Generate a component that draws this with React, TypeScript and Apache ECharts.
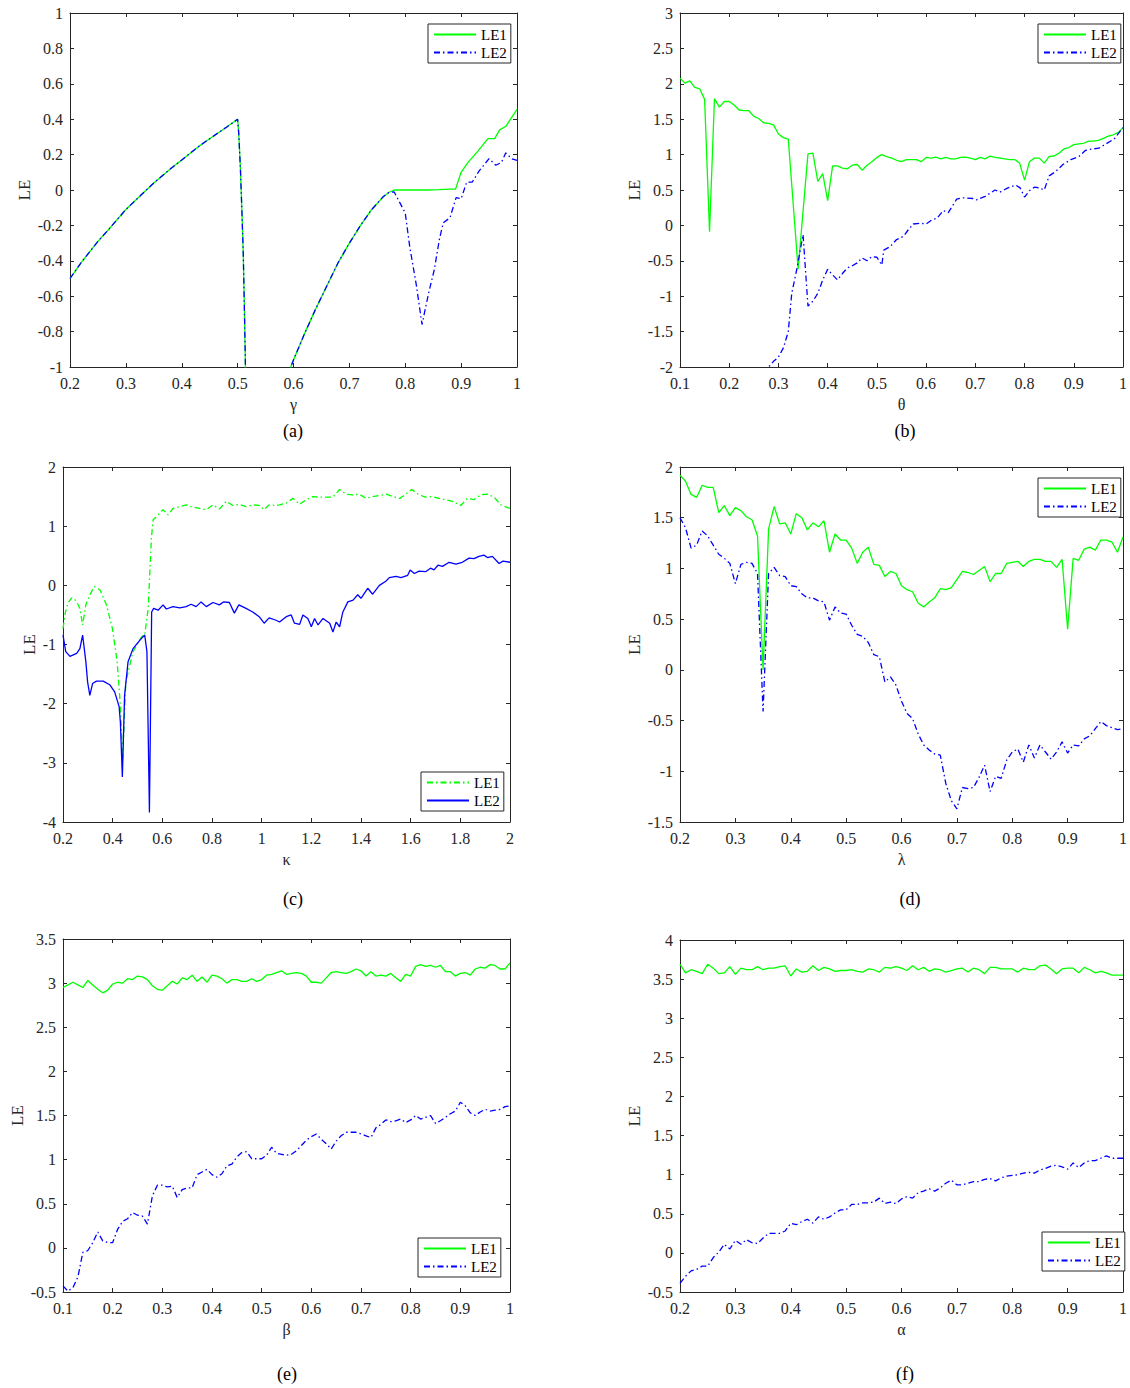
import React, { useEffect, useRef } from "react";
import * as echarts from "echarts";

type Pt = [number, number];

// ---------- (a) LE vs gamma ----------
const aLE1: Pt[] = [
  [0.2, -0.5], [0.22, -0.41], [0.25, -0.29], [0.27, -0.22], [0.3, -0.11], [0.33, -0.02], [0.35, 0.04],
  [0.38, 0.12], [0.4, 0.17], [0.43, 0.245], [0.45, 0.29], [0.48, 0.355], [0.5, 0.4], [0.502, 0.32],
  [0.505, 0.12], [0.508, -0.15], [0.51, -0.35], [0.512, -0.65], [0.514, -1.0], [0.516, -1.3],
  [0.55, -1.35], [0.59, -1.3], [0.595, -1.0], [0.6, -0.96], [0.62, -0.81], [0.64, -0.67], [0.66, -0.54],
  [0.68, -0.41], [0.7, -0.3], [0.72, -0.2], [0.74, -0.11], [0.76, -0.04], [0.77, -0.015], [0.78, 0.0],
  [0.8, 0.0], [0.82, 0.0], [0.84, 0.0], [0.86, 0.002], [0.88, 0.005], [0.89, 0.005], [0.9, 0.1],
  [0.912, 0.155], [0.93, 0.22], [0.948, 0.29], [0.96, 0.29], [0.969, 0.34], [0.98, 0.36], [1.0, 0.455],
];
const aLE2: Pt[] = [
  [0.2, -0.5], [0.22, -0.41], [0.25, -0.29], [0.27, -0.22], [0.3, -0.11], [0.33, -0.02], [0.35, 0.04],
  [0.38, 0.12], [0.4, 0.17], [0.43, 0.245], [0.45, 0.29], [0.48, 0.355], [0.5, 0.4], [0.502, 0.32],
  [0.505, 0.12], [0.508, -0.15], [0.51, -0.35], [0.512, -0.65], [0.514, -1.0], [0.516, -1.3],
  [0.55, -1.35], [0.59, -1.3], [0.595, -1.0], [0.6, -0.96], [0.62, -0.81], [0.64, -0.67], [0.66, -0.54],
  [0.68, -0.41], [0.7, -0.3], [0.72, -0.2], [0.74, -0.11], [0.76, -0.04], [0.77, -0.015], [0.78, -0.01],
  [0.8, -0.13], [0.808, -0.32], [0.82, -0.54], [0.83, -0.76], [0.842, -0.58], [0.852, -0.45], [0.861, -0.28],
  [0.868, -0.185], [0.88, -0.157], [0.891, -0.043], [0.9, -0.05], [0.91, 0.045], [0.92, 0.045],
  [0.932, 0.107], [0.95, 0.177], [0.962, 0.14], [0.972, 0.155], [0.98, 0.21], [0.99, 0.177], [1.0, 0.168],
];

// ---------- (b) LE vs theta ----------
const bLE1: Pt[] = [
  [0.1, 2.08], [0.11, 2.01], [0.12, 2.04], [0.13, 1.95], [0.14, 1.93], [0.15, 1.78], [0.16, -0.09], [0.17, 1.79],
  [0.18, 1.67], [0.19, 1.75], [0.2, 1.75], [0.21, 1.7], [0.22, 1.63], [0.23, 1.62], [0.24, 1.62], [0.25, 1.54],
  [0.26, 1.51], [0.27, 1.45], [0.28, 1.44], [0.29, 1.42], [0.3, 1.29], [0.31, 1.24], [0.32, 1.22], [0.34, -0.62],
  [0.35, 0.2], [0.36, 1.01], [0.37, 1.02], [0.38, 0.62], [0.39, 0.73], [0.4, 0.35], [0.41, 0.84], [0.42, 0.84],
  [0.43, 0.81], [0.44, 0.8], [0.45, 0.85], [0.46, 0.86], [0.47, 0.78], [0.48, 0.85], [0.49, 0.9], [0.5, 0.96],
  [0.51, 1.0], [0.52, 0.97], [0.53, 0.95], [0.54, 0.92], [0.55, 0.9], [0.56, 0.93], [0.57, 0.93], [0.58, 0.93],
  [0.59, 0.9], [0.6, 0.96], [0.61, 0.95], [0.62, 0.965], [0.63, 0.94], [0.64, 0.96], [0.65, 0.94], [0.66, 0.94],
  [0.67, 0.96], [0.68, 0.965], [0.69, 0.95], [0.7, 0.93], [0.71, 0.96], [0.72, 0.94], [0.73, 0.98], [0.74, 0.96],
  [0.75, 0.95], [0.76, 0.94], [0.77, 0.93], [0.78, 0.93], [0.79, 0.88], [0.8, 0.64], [0.81, 0.9], [0.82, 0.95],
  [0.83, 0.95], [0.84, 0.88], [0.85, 0.975], [0.86, 0.98], [0.87, 1.02], [0.88, 1.08], [0.89, 1.1], [0.9, 1.14],
  [0.91, 1.15], [0.92, 1.16], [0.93, 1.19], [0.94, 1.19], [0.95, 1.2], [0.96, 1.23], [0.97, 1.26], [0.98, 1.28],
  [0.99, 1.31], [1.0, 1.38],
];
const bLE2: Pt[] = [
  [0.27, -2.3], [0.28, -2.0], [0.29, -1.92], [0.3, -1.86], [0.31, -1.73], [0.32, -1.5], [0.327, -0.96],
  [0.337, -0.63], [0.35, -0.13], [0.36, -1.14], [0.37, -1.07], [0.38, -0.96], [0.39, -0.77], [0.4, -0.62],
  [0.41, -0.7], [0.42, -0.77], [0.43, -0.68], [0.44, -0.6], [0.45, -0.57], [0.46, -0.53], [0.47, -0.46],
  [0.48, -0.5], [0.49, -0.44], [0.5, -0.45], [0.51, -0.56], [0.514, -0.35], [0.527, -0.3], [0.54, -0.2],
  [0.554, -0.155], [0.564, -0.06], [0.574, 0.02], [0.588, 0.03], [0.6, 0.02], [0.612, 0.08], [0.622, 0.1],
  [0.635, 0.21], [0.645, 0.18], [0.662, 0.37], [0.675, 0.39], [0.695, 0.38], [0.702, 0.36], [0.72, 0.41],
  [0.74, 0.5], [0.75, 0.47], [0.766, 0.53], [0.782, 0.57], [0.791, 0.53], [0.8, 0.4], [0.81, 0.49],
  [0.82, 0.54], [0.83, 0.53], [0.84, 0.5], [0.85, 0.7], [0.863, 0.76], [0.878, 0.86], [0.894, 0.93],
  [0.91, 0.97], [0.924, 1.06], [0.938, 1.08], [0.951, 1.09], [0.965, 1.15], [0.982, 1.22], [1.0, 1.38],
];

// ---------- (c) LE vs kappa ----------
const cLE1: Pt[] = [
  [0.2, -0.73], [0.21, -0.45], [0.22, -0.3], [0.235, -0.21], [0.25, -0.25], [0.26, -0.32], [0.268, -0.39],
  [0.279, -0.67], [0.292, -0.33], [0.308, -0.16], [0.326, -0.02], [0.349, -0.08], [0.375, -0.33], [0.399, -0.73],
  [0.418, -1.29], [0.431, -2.03], [0.44, -2.95], [0.453, -1.63], [0.482, -1.12], [0.516, -0.87], [0.529, -0.84],
  [0.543, -0.39], [0.556, 0.8], [0.563, 1.11], [0.576, 1.16], [0.603, 1.28], [0.623, 1.19], [0.643, 1.3],
  [0.67, 1.33], [0.696, 1.36], [0.716, 1.33], [0.75, 1.3], [0.777, 1.28], [0.804, 1.36], [0.83, 1.29],
  [0.857, 1.42], [0.884, 1.35], [0.91, 1.37], [0.937, 1.33], [0.964, 1.36], [0.99, 1.35], [1.01, 1.28],
  [1.03, 1.36], [1.058, 1.35], [1.072, 1.36], [1.099, 1.39], [1.126, 1.47], [1.153, 1.37], [1.18, 1.45],
  [1.207, 1.5], [1.233, 1.49], [1.26, 1.49], [1.287, 1.49], [1.314, 1.62], [1.341, 1.54], [1.368, 1.53],
  [1.393, 1.54], [1.42, 1.47], [1.447, 1.5], [1.476, 1.52], [1.502, 1.54], [1.529, 1.5], [1.556, 1.47],
  [1.58, 1.54], [1.604, 1.62], [1.634, 1.53], [1.66, 1.49], [1.687, 1.5], [1.714, 1.47], [1.74, 1.45],
  [1.768, 1.42], [1.802, 1.35], [1.828, 1.47], [1.855, 1.45], [1.882, 1.53], [1.909, 1.54], [1.936, 1.49],
  [1.963, 1.36], [2.0, 1.3],
];
const cLE2: Pt[] = [
  [0.2, -0.84], [0.211, -1.12], [0.228, -1.2], [0.255, -1.15], [0.268, -1.07], [0.279, -0.84], [0.292, -1.29],
  [0.299, -1.63], [0.308, -1.86], [0.319, -1.66], [0.335, -1.62], [0.362, -1.62], [0.388, -1.68], [0.408, -1.8],
  [0.426, -2.05], [0.431, -2.31], [0.439, -3.24], [0.448, -1.86], [0.462, -1.29], [0.482, -1.07], [0.509, -0.93],
  [0.529, -0.84], [0.538, -1.12], [0.548, -3.84], [0.557, -0.45], [0.565, -0.39], [0.583, -0.42], [0.603, -0.33],
  [0.616, -0.4], [0.643, -0.36], [0.67, -0.38], [0.696, -0.36], [0.716, -0.32], [0.736, -0.36], [0.756, -0.28],
  [0.777, -0.36], [0.804, -0.29], [0.83, -0.33], [0.846, -0.28], [0.87, -0.29], [0.89, -0.47], [0.908, -0.33],
  [0.937, -0.39], [0.964, -0.45], [0.99, -0.53], [1.01, -0.64], [1.03, -0.55], [1.058, -0.59], [1.072, -0.62],
  [1.099, -0.53], [1.119, -0.5], [1.132, -0.64], [1.153, -0.66], [1.166, -0.5], [1.186, -0.56], [1.2, -0.7],
  [1.213, -0.56], [1.227, -0.67], [1.247, -0.56], [1.274, -0.64], [1.287, -0.79], [1.3, -0.62], [1.314, -0.7],
  [1.327, -0.45], [1.347, -0.28], [1.368, -0.25], [1.387, -0.16], [1.4, -0.22], [1.427, -0.05], [1.447, -0.15],
  [1.474, 0.0], [1.5, 0.07], [1.514, 0.13], [1.541, 0.15], [1.561, 0.13], [1.588, 0.17], [1.598, 0.26],
  [1.615, 0.2], [1.634, 0.24], [1.66, 0.23], [1.68, 0.29], [1.694, 0.26], [1.71, 0.34], [1.728, 0.32],
  [1.755, 0.39], [1.782, 0.36], [1.808, 0.39], [1.835, 0.46], [1.855, 0.45], [1.875, 0.49], [1.895, 0.51],
  [1.909, 0.47], [1.929, 0.49], [1.956, 0.37], [1.972, 0.41], [2.0, 0.39],
];

// ---------- (d) LE vs lambda ----------
const dLE1: Pt[] = [
  [0.2, 1.92], [0.21, 1.86], [0.22, 1.73], [0.23, 1.7], [0.24, 1.82], [0.25, 1.8], [0.26, 1.8], [0.27, 1.55],
  [0.28, 1.62], [0.29, 1.52], [0.3, 1.6], [0.31, 1.57], [0.32, 1.51], [0.33, 1.48], [0.34, 1.32], [0.35, 0.0],
  [0.36, 1.39], [0.37, 1.61], [0.38, 1.44], [0.39, 1.45], [0.4, 1.34], [0.41, 1.54], [0.42, 1.5], [0.43, 1.38],
  [0.44, 1.45], [0.45, 1.41], [0.46, 1.47], [0.47, 1.16], [0.48, 1.34], [0.49, 1.28], [0.5, 1.28], [0.51, 1.2],
  [0.52, 1.05], [0.53, 1.16], [0.54, 1.21], [0.55, 1.04], [0.56, 1.03], [0.57, 0.92], [0.58, 0.97], [0.59, 0.95],
  [0.6, 0.83], [0.61, 0.79], [0.62, 0.77], [0.63, 0.66], [0.64, 0.62], [0.65, 0.67], [0.66, 0.71], [0.67, 0.8],
  [0.68, 0.79], [0.69, 0.81], [0.7, 0.89], [0.71, 0.97], [0.72, 0.96], [0.73, 0.94], [0.74, 0.98], [0.75, 1.02],
  [0.76, 0.87], [0.77, 0.95], [0.78, 0.95], [0.79, 1.05], [0.8, 1.06], [0.81, 1.07], [0.82, 1.02], [0.83, 1.07],
  [0.84, 1.09], [0.85, 1.09], [0.86, 1.07], [0.87, 1.07], [0.88, 1.01], [0.89, 1.09], [0.9, 0.4], [0.91, 1.1],
  [0.92, 1.08], [0.93, 1.19], [0.94, 1.21], [0.95, 1.18], [0.96, 1.28], [0.97, 1.28], [0.98, 1.26], [0.99, 1.16],
  [1.0, 1.31],
];
const dLE2: Pt[] = [
  [0.2, 1.5], [0.21, 1.4], [0.22, 1.2], [0.23, 1.23], [0.24, 1.37], [0.25, 1.32], [0.26, 1.23], [0.27, 1.14],
  [0.28, 1.1], [0.29, 1.05], [0.3, 0.85], [0.31, 1.04], [0.32, 1.06], [0.33, 1.05], [0.34, 0.95], [0.35, -0.41],
  [0.36, 0.95], [0.37, 1.01], [0.38, 0.93], [0.39, 0.92], [0.4, 0.83], [0.41, 0.82], [0.42, 0.75], [0.43, 0.71],
  [0.44, 0.71], [0.45, 0.68], [0.46, 0.67], [0.47, 0.49], [0.48, 0.62], [0.49, 0.56], [0.5, 0.55], [0.51, 0.44],
  [0.52, 0.35], [0.53, 0.33], [0.54, 0.27], [0.55, 0.15], [0.56, 0.13], [0.57, -0.12], [0.58, -0.07], [0.59, -0.15],
  [0.6, -0.31], [0.61, -0.43], [0.62, -0.48], [0.63, -0.63], [0.64, -0.74], [0.65, -0.79], [0.66, -0.83],
  [0.67, -0.84], [0.68, -1.12], [0.69, -1.29], [0.7, -1.37], [0.71, -1.16], [0.72, -1.17], [0.73, -1.16],
  [0.74, -1.06], [0.75, -0.94], [0.76, -1.2], [0.77, -1.05], [0.78, -1.07], [0.79, -0.89], [0.8, -0.81],
  [0.81, -0.78], [0.82, -0.91], [0.83, -0.74], [0.84, -0.87], [0.85, -0.74], [0.86, -0.81], [0.87, -0.88],
  [0.88, -0.81], [0.89, -0.71], [0.9, -0.82], [0.91, -0.74], [0.92, -0.75], [0.93, -0.68], [0.94, -0.65],
  [0.95, -0.58], [0.96, -0.51], [0.97, -0.55], [0.98, -0.57], [0.99, -0.59], [1.0, -0.58],
];

// ---------- (e) LE vs beta ----------
const eLE1: Pt[] = [
  [0.1, 2.95], [0.11, 2.98], [0.12, 3.01], [0.13, 2.98], [0.14, 2.95], [0.15, 3.03], [0.16, 2.98], [0.17, 2.93],
  [0.18, 2.89], [0.19, 2.92], [0.2, 2.99], [0.21, 3.01], [0.22, 3.0], [0.23, 3.05], [0.24, 3.04], [0.25, 3.08],
  [0.26, 3.07], [0.27, 3.04], [0.28, 2.97], [0.29, 2.93], [0.3, 2.92], [0.31, 2.97], [0.32, 3.02], [0.33, 2.99],
  [0.34, 3.06], [0.35, 3.04], [0.36, 3.09], [0.37, 3.02], [0.38, 3.07], [0.39, 3.01], [0.4, 3.09], [0.41, 3.08],
  [0.42, 3.05], [0.43, 3.0], [0.44, 3.04], [0.45, 3.04], [0.46, 3.02], [0.47, 3.02], [0.48, 3.05], [0.49, 3.02],
  [0.5, 3.04], [0.51, 3.09], [0.52, 3.1], [0.53, 3.12], [0.54, 3.14], [0.55, 3.1], [0.56, 3.11], [0.57, 3.12],
  [0.58, 3.11], [0.59, 3.08], [0.6, 3.01], [0.61, 3.01], [0.62, 3.0], [0.63, 3.06], [0.64, 3.12], [0.65, 3.13],
  [0.66, 3.12], [0.67, 3.11], [0.68, 3.13], [0.69, 3.16], [0.7, 3.14], [0.71, 3.08], [0.72, 3.13], [0.73, 3.08],
  [0.74, 3.09], [0.75, 3.08], [0.76, 3.11], [0.77, 3.06], [0.78, 3.02], [0.79, 3.1], [0.8, 3.08], [0.81, 3.19],
  [0.82, 3.21], [0.83, 3.19], [0.84, 3.2], [0.85, 3.18], [0.86, 3.2], [0.87, 3.13], [0.88, 3.13], [0.89, 3.08],
  [0.9, 3.11], [0.91, 3.12], [0.92, 3.09], [0.93, 3.16], [0.94, 3.18], [0.95, 3.17], [0.96, 3.21], [0.97, 3.2],
  [0.98, 3.16], [0.99, 3.16], [1.0, 3.23],
];
const eLE2: Pt[] = [
  [0.1, -0.43], [0.11, -0.49], [0.12, -0.45], [0.13, -0.33], [0.14, -0.05], [0.15, -0.03], [0.16, 0.06],
  [0.17, 0.18], [0.18, 0.08], [0.19, 0.06], [0.2, 0.06], [0.21, 0.21], [0.22, 0.3], [0.23, 0.33], [0.24, 0.4],
  [0.25, 0.37], [0.26, 0.36], [0.27, 0.27], [0.28, 0.59], [0.29, 0.71], [0.3, 0.71], [0.31, 0.69], [0.32, 0.7],
  [0.33, 0.57], [0.34, 0.66], [0.35, 0.68], [0.36, 0.68], [0.37, 0.83], [0.38, 0.86], [0.39, 0.89], [0.4, 0.83],
  [0.41, 0.8], [0.42, 0.84], [0.43, 0.93], [0.44, 0.95], [0.45, 1.03], [0.46, 1.08], [0.47, 1.09], [0.48, 1.01],
  [0.49, 1.01], [0.5, 1.01], [0.51, 1.05], [0.52, 1.14], [0.53, 1.07], [0.54, 1.06], [0.55, 1.05], [0.56, 1.06],
  [0.57, 1.1], [0.58, 1.16], [0.59, 1.22], [0.6, 1.26], [0.61, 1.29], [0.62, 1.23], [0.63, 1.18], [0.64, 1.12],
  [0.65, 1.21], [0.66, 1.27], [0.67, 1.31], [0.68, 1.31], [0.69, 1.31], [0.7, 1.29], [0.71, 1.27], [0.72, 1.25],
  [0.73, 1.36], [0.74, 1.4], [0.75, 1.45], [0.76, 1.43], [0.77, 1.44], [0.78, 1.46], [0.79, 1.42], [0.8, 1.45],
  [0.81, 1.5], [0.82, 1.46], [0.83, 1.48], [0.84, 1.5], [0.85, 1.41], [0.86, 1.44], [0.87, 1.48], [0.88, 1.52],
  [0.89, 1.55], [0.9, 1.65], [0.91, 1.61], [0.92, 1.53], [0.93, 1.5], [0.94, 1.54], [0.95, 1.57], [0.96, 1.55],
  [0.97, 1.56], [0.98, 1.57], [0.99, 1.6], [1.0, 1.61],
];

// ---------- (f) LE vs alpha ----------
const fLE1: Pt[] = [
  [0.2, 3.69], [0.21, 3.58], [0.22, 3.62], [0.23, 3.6], [0.24, 3.57], [0.25, 3.69], [0.26, 3.64], [0.27, 3.57],
  [0.28, 3.58], [0.29, 3.66], [0.3, 3.56], [0.31, 3.64], [0.32, 3.62], [0.33, 3.62], [0.34, 3.66], [0.35, 3.62],
  [0.36, 3.64], [0.37, 3.64], [0.38, 3.66], [0.39, 3.67], [0.4, 3.54], [0.41, 3.63], [0.42, 3.59], [0.43, 3.6],
  [0.44, 3.67], [0.45, 3.61], [0.46, 3.65], [0.47, 3.63], [0.48, 3.6], [0.49, 3.61], [0.5, 3.61], [0.51, 3.62],
  [0.52, 3.6], [0.53, 3.59], [0.54, 3.63], [0.55, 3.62], [0.56, 3.59], [0.57, 3.65], [0.58, 3.64], [0.59, 3.66],
  [0.6, 3.64], [0.61, 3.61], [0.62, 3.67], [0.63, 3.62], [0.64, 3.65], [0.65, 3.6], [0.66, 3.63], [0.67, 3.62],
  [0.68, 3.59], [0.69, 3.61], [0.7, 3.63], [0.71, 3.64], [0.72, 3.59], [0.73, 3.64], [0.74, 3.62], [0.75, 3.57],
  [0.76, 3.65], [0.77, 3.65], [0.78, 3.63], [0.79, 3.63], [0.8, 3.63], [0.81, 3.59], [0.82, 3.64], [0.83, 3.62],
  [0.84, 3.62], [0.85, 3.67], [0.86, 3.68], [0.87, 3.63], [0.88, 3.57], [0.89, 3.63], [0.9, 3.64], [0.91, 3.64],
  [0.92, 3.58], [0.93, 3.65], [0.94, 3.62], [0.95, 3.58], [0.96, 3.6], [0.97, 3.58], [0.98, 3.55], [0.99, 3.55],
  [1.0, 3.55],
];
const fLE2: Pt[] = [
  [0.2, -0.39], [0.21, -0.3], [0.22, -0.23], [0.23, -0.21], [0.24, -0.17], [0.25, -0.17], [0.26, -0.06],
  [0.27, 0.01], [0.28, 0.11], [0.29, 0.05], [0.3, 0.16], [0.31, 0.11], [0.32, 0.17], [0.33, 0.13], [0.34, 0.12],
  [0.35, 0.19], [0.36, 0.25], [0.37, 0.25], [0.38, 0.25], [0.39, 0.28], [0.4, 0.38], [0.41, 0.36], [0.42, 0.4],
  [0.43, 0.43], [0.44, 0.38], [0.45, 0.46], [0.46, 0.43], [0.47, 0.46], [0.48, 0.51], [0.49, 0.55], [0.5, 0.55],
  [0.51, 0.62], [0.52, 0.62], [0.53, 0.64], [0.54, 0.64], [0.55, 0.65], [0.56, 0.7], [0.57, 0.63], [0.58, 0.65],
  [0.59, 0.63], [0.6, 0.69], [0.61, 0.72], [0.62, 0.7], [0.63, 0.77], [0.64, 0.79], [0.65, 0.82], [0.66, 0.79],
  [0.67, 0.83], [0.68, 0.89], [0.69, 0.93], [0.7, 0.87], [0.71, 0.87], [0.72, 0.89], [0.73, 0.91], [0.74, 0.91],
  [0.75, 0.94], [0.76, 0.95], [0.77, 0.92], [0.78, 0.96], [0.79, 0.98], [0.8, 0.99], [0.81, 1.0], [0.82, 1.02],
  [0.83, 1.03], [0.84, 1.02], [0.85, 1.06], [0.86, 1.08], [0.87, 1.11], [0.88, 1.12], [0.89, 1.1], [0.9, 1.07],
  [0.91, 1.15], [0.92, 1.09], [0.93, 1.15], [0.94, 1.18], [0.95, 1.18], [0.96, 1.21], [0.97, 1.24], [0.98, 1.21],
  [0.99, 1.21], [1.0, 1.21],
];

// ---------- styling / layout ----------
const FONT = "'Liberation Serif', 'Times New Roman', serif";
const AX = "#262626";
const GREEN = "#00ff00";
const BLUE = "#0000ff";
const SOLID = "solid";
const DASHDOT = [6, 3, 1.5, 3];

interface SeriesCfg { name: string; data: Pt[]; color: string; dash: any }
interface PanelCfg {
  box: [number, number, number, number];
  grid: [number, number, number, number];
  x: [number, number, number]; xName: string;
  y: [number, number, number]; yGap: number;
  legend: [number, number];
  caption: string; capPos: [number, number];
  series: SeriesCfg[];
}

const panels: PanelCfg[] = [
  { box: [0, 0, 565, 445], grid: [70, 13, 447, 354], x: [0.2, 1, 0.1], xName: "γ", y: [-1, 1, 0.2], yGap: 37,
    legend: [428, 24], caption: "(a)", capPos: [293, 431],
    series: [{ name: "LE1", data: aLE1, color: GREEN, dash: SOLID }, { name: "LE2", data: aLE2, color: BLUE, dash: DASHDOT }] },
  { box: [565, 0, 565, 445], grid: [115, 13, 447, 354], x: [0.1, 1, 0.1], xName: "θ", y: [-2, 3, 0.5], yGap: 37.5,
    legend: [473, 24], caption: "(b)", capPos: [340, 431],
    series: [{ name: "LE1", data: bLE1, color: GREEN, dash: SOLID }, { name: "LE2", data: bLE2, color: BLUE, dash: DASHDOT }] },
  { box: [0, 445, 565, 470], grid: [63, 22, 447, 355], x: [0.2, 2, 0.2], xName: "κ", y: [-4, 2, 1], yGap: 25,
    legend: [421, 327], caption: "(c)", capPos: [293, 454],
    series: [{ name: "LE1", data: cLE1, color: GREEN, dash: DASHDOT }, { name: "LE2", data: cLE2, color: BLUE, dash: SOLID }] },
  { box: [565, 445, 565, 470], grid: [115, 22, 447, 355], x: [0.2, 1, 0.1], xName: "λ", y: [-1.5, 2, 0.5], yGap: 37.5,
    legend: [473, 33], caption: "(d)", capPos: [345, 454],
    series: [{ name: "LE1", data: dLE1, color: GREEN, dash: SOLID }, { name: "LE2", data: dLE2, color: BLUE, dash: DASHDOT }] },
  { box: [0, 915, 565, 473], grid: [63, 24, 447, 353], x: [0.1, 1, 0.1], xName: "β", y: [-0.5, 3.5, 0.5], yGap: 37,
    legend: [418, 323], caption: "(e)", capPos: [287, 459],
    series: [{ name: "LE1", data: eLE1, color: GREEN, dash: SOLID }, { name: "LE2", data: eLE2, color: BLUE, dash: DASHDOT }] },
  { box: [565, 915, 565, 473], grid: [115, 25, 447, 352], x: [0.2, 1, 0.1], xName: "α", y: [-0.5, 4, 0.5], yGap: 37.5,
    legend: [477, 317], caption: "(f)", capPos: [340, 459],
    series: [{ name: "LE1", data: fLE1, color: GREEN, dash: SOLID }, { name: "LE2", data: fLE2, color: BLUE, dash: DASHDOT }] },
];

function axisCommon(min: number, max: number, interval: number) {
  return {
    type: "value", min, max, interval, scale: true,
    axisLine: { show: true, onZero: false, lineStyle: { color: AX, width: 1 } },
    axisTick: { show: true, inside: true, length: 4, lineStyle: { color: AX, width: 1 } },
    splitLine: { show: false },
  };
}

function buildOption(p: PanelCfg): any {
  const [gl, gt, gw, gh] = p.grid;
  const labelStyle = { fontFamily: FONT, fontSize: 16, color: AX, showMinLabel: true, showMaxLabel: true };
  return {
    animation: false,
    backgroundColor: "#ffffff",
    grid: { left: gl, top: gt, width: gw, height: gh, containLabel: false },
    xAxis: [
      { ...axisCommon(p.x[0], p.x[1], p.x[2]), position: "bottom", name: p.xName, nameLocation: "middle", nameGap: 29,
        nameMoveOverlap: false,
        nameTextStyle: { fontFamily: FONT, fontSize: 16, color: AX },
        axisLabel: { ...labelStyle, margin: 8 } },
      { ...axisCommon(p.x[0], p.x[1], p.x[2]), position: "top", axisLabel: { show: false } },
    ],
    yAxis: [
      { ...axisCommon(p.y[0], p.y[1], p.y[2]), position: "left", name: "LE", nameLocation: "middle", nameGap: p.yGap,
        nameMoveOverlap: false,
        nameTextStyle: { fontFamily: FONT, fontSize: 17, color: AX },
        axisLabel: { ...labelStyle, margin: 7 } },
      { ...axisCommon(p.y[0], p.y[1], p.y[2]), position: "right", axisLabel: { show: false } },
    ],
    legend: {
      orient: "vertical", left: p.legend[0], top: p.legend[1],
      itemWidth: 42, itemHeight: 13, itemGap: 3, padding: [3, 4, 3, 5],
      borderColor: AX, borderWidth: 1, backgroundColor: "#ffffff",
      itemStyle: { opacity: 0 },
      textStyle: { fontFamily: FONT, fontSize: 15, color: "#000" },
      data: p.series.map((s) => s.name),
      selectedMode: false,
    },
    graphic: [
      { type: "text", x: p.capPos[0], y: p.capPos[1],
        style: { text: p.caption, font: `18px ${FONT}`, fill: "#000", align: "center", verticalAlign: "middle" } },
    ],
    series: p.series.map((s) => ({
      type: "line", name: s.name, data: s.data, xAxisIndex: 0, yAxisIndex: 0,
      symbol: "none", showSymbol: false, clip: true, silent: true,
      lineStyle: { color: s.color, width: 1.3, type: s.dash },
      itemStyle: { color: s.color },
    })),
  };
}

function Panel({ p }: { p: PanelCfg }) {
  const ref = useRef<HTMLDivElement>(null);
  useEffect(() => {
    if (!ref.current) return;
    const chart = echarts.init(ref.current, undefined, { renderer: "svg" });
    chart.setOption(buildOption(p));
    return () => chart.dispose();
  }, [p]);
  return (
    <div ref={ref}
      style={{ position: "absolute", left: p.box[0], top: p.box[1], width: p.box[2], height: p.box[3] }} />
  );
}

export default function App() {
  return (
    <div style={{ position: "absolute", left: 0, top: 0, width: 1130, height: 1388, background: "#fff" }}>
      {panels.map((p, i) => <Panel key={i} p={p} />)}
    </div>
  );
}
